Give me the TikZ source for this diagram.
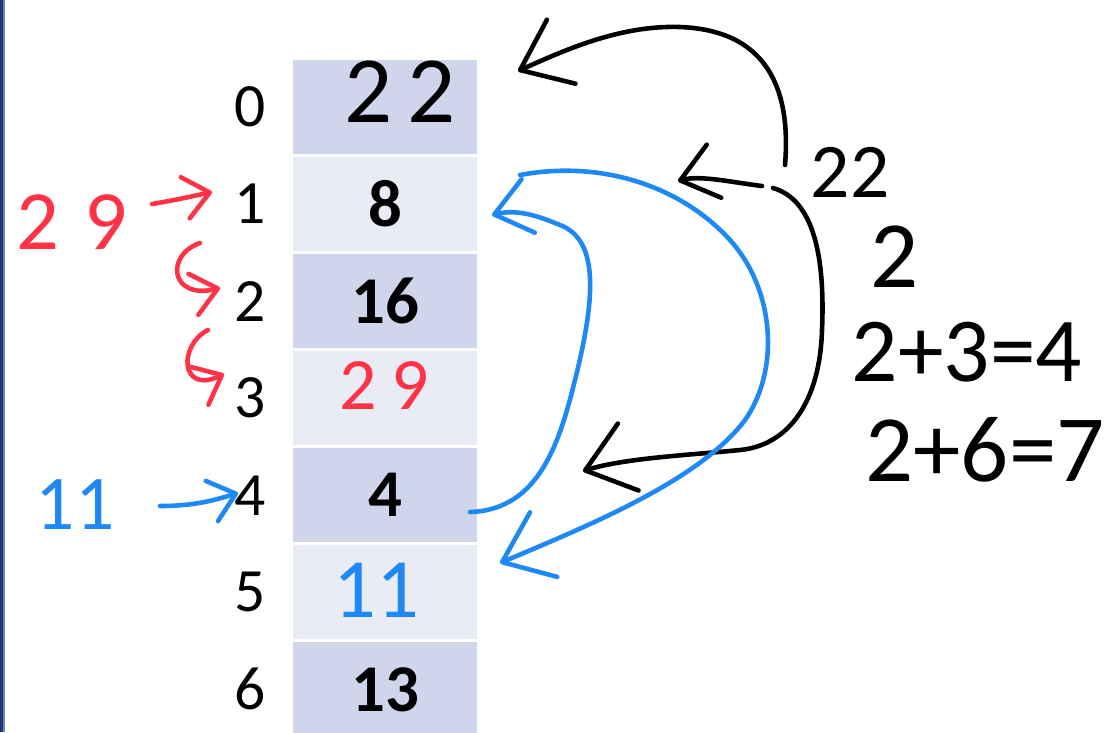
\documentclass[tikz,border=0pt]{standalone}
\usepackage{fontspec}
\setmainfont{Carlito}
\usepackage{tikz}
\usetikzlibrary{positioning, arrows.meta}

\definecolor{rowdark}{HTML}{CFD5EA}
\definecolor{rowlight}{HTML}{E9EBF5}
\definecolor{inkred}{HTML}{FF3246}
\definecolor{inkblue}{HTML}{1E88F5}
\definecolor{edgenavy}{HTML}{1F3A6E}
\definecolor{edgelight}{HTML}{6A88BE}

\newcommand{\fsz}[1]{\fontsize{#1}{#1}\selectfont}

\begin{document}
\begin{tikzpicture}[
    x=0.01cm, y=-0.01cm,
    cell/.style={minimum width=1.84cm, minimum height=0.94cm, inner sep=0pt, outer sep=0pt, font=\fsz{19pt}\bfseries},
    darkrow/.style={cell, fill=rowdark},
    lightrow/.style={cell, fill=rowlight},
    idx/.style={inner sep=0pt, outer sep=0pt, font=\fsz{17.5pt}},
    hand/.style={inner sep=0pt},
    ink/.style={line width=1.3pt, line cap=round, line join=round},
    bigtip/.style={-{Straight Barb[length=4.5mm, width=7mm, round]}},
    midtip/.style={-{Straight Barb[length=3.5mm, width=5.5mm, round]}},
    smalltip/.style={-{Straight Barb[length=2.5mm, width=4.2mm, round]}}
]
\useasboundingbox (0,0) rectangle (1112,732);
\fill[edgenavy] (0,0) rectangle (3,732);
\fill[edgelight] (3,0) rectangle (4.5,732);

\node[darkrow] (r0) at (385,107) {};
\node[lightrow, below=0.03cm of r0] (r1) {8};
\node[darkrow, below=0.03cm of r1] (r2) {16};
\node[lightrow, below=0.03cm of r2] (r3) {};
\node[darkrow, below=0.03cm of r3] (r4) {4};
\node[lightrow, below=0.03cm of r4] (r5) {};
\node[darkrow, below=0.03cm of r5] (r6) {13};

\node[idx, left=0.27cm of r0] (i0) {0};
\node[idx, left=0.27cm of r1] (i1) {1};
\node[idx, left=0.27cm of r2] (i2) {2};
\node[idx, left=0.27cm of r3] (i3) {3};
\node[idx, left=0.27cm of r4] (i4) {4};
\node[idx, left=0.27cm of r5] (i5) {5};
\node[idx, left=0.27cm of r6] (i6) {6};

\node[hand, font=\fsz{27pt}\addfontfeature{LetterSpace=15}] (v0) at (400,92) {22};
\node[hand, inkred, font=\fsz{21pt}\addfontfeature{LetterSpace=20}] (v3) at (384,386) {29};
\node[hand, inkblue, font=\fsz{24pt}] (v5) at (376,590) {11};

\node[hand, inkred, font=\fsz{24pt}\addfontfeature{LetterSpace=30}] (l29) at (72,222) {29};
\node[hand, inkblue, font=\fsz{22pt}] (l11) at (75,505) {11};

\node[hand, font=\fsz{22pt}] (k22) at (850,172) {22};
\node[hand, font=\fsz{27pt}] (k1) at (895,257) {2};
\node[hand, font=\fsz{26pt}] (k2) at (967,352) {2+3=4};
\node[hand, font=\fsz{27pt}] (k3) at (985,450) {2+6=7};

\coordinate (a0) at (785,165);
\coordinate (a1) at (518,71);
\coordinate (b0) at (762,186);
\coordinate (b1) at (678,181);
\coordinate (c0) at (773,188);
\coordinate (c1) at (583,471);
\coordinate (d0) at (470,512);
\coordinate (d1) at (492,215);
\coordinate (e0) at (520,175);
\coordinate (e1) at (500,563);

\draw[ink, bigtip] (a0) .. controls (792,80) and (760,30) .. (680,27) .. controls (620,25) and (565,50) .. (a1);
\draw[ink, midtip] (b0) .. controls (730,182) and (700,175) .. (b1);
\draw[ink, bigtip] (c0) .. controls (815,200) and (825,260) .. (822,330) .. controls (820,400) and (790,445) .. (740,450) .. controls (690,455) and (625,458) .. (c1);

\draw[ink, inkblue, midtip] (d0) .. controls (540,510) and (560,440) .. (575,380) .. controls (595,300) and (600,240) .. (560,225) .. controls (545,219) and (520,208) .. (d1);
\draw[ink, inkblue, bigtip] (e0) .. controls (600,160) and (680,185) .. (730,240) .. controls (775,290) and (780,370) .. (745,420) .. controls (700,480) and (590,525) .. (e1);

\draw[ink, inkred, smalltip] (152,204) .. controls (175,200) .. (212,192);
\draw[ink, inkred, smalltip] (200,243) .. controls (165,255) and (170,300) .. (220,288);
\draw[ink, inkred, smalltip] (208,330) .. controls (178,345) and (180,395) .. (224,374);
\draw[ink, inkblue, smalltip] (160,506) .. controls (195,506) and (215,500) .. (238,493);

\end{tikzpicture}
\end{document}
